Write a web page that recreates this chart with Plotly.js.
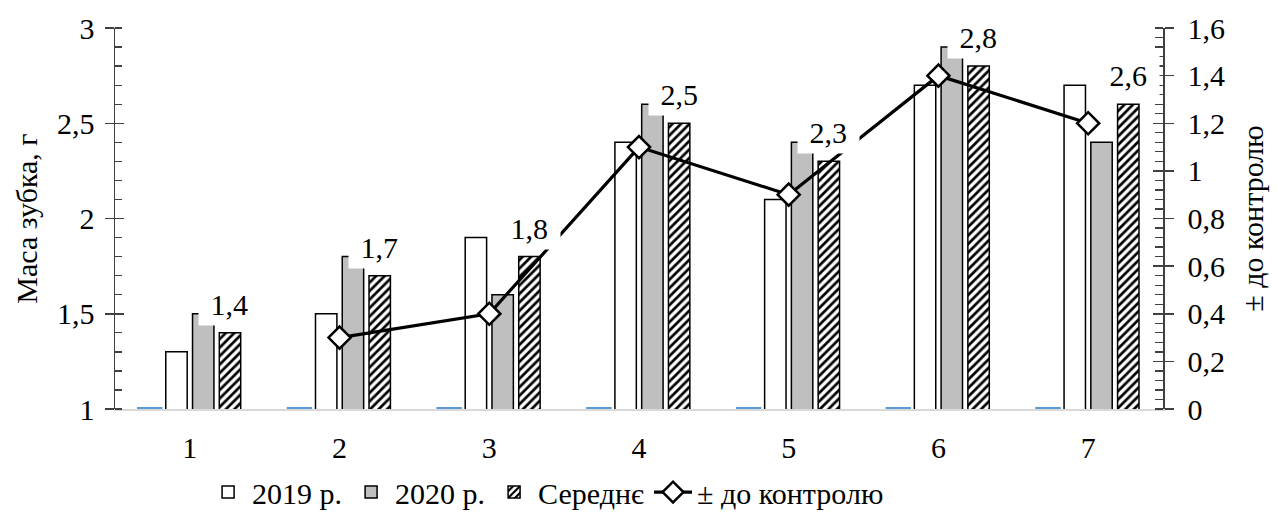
<!DOCTYPE html>
<html>
<head>
<meta charset="utf-8">
<script src="https://cdn.plot.ly/plotly-3.0.1.min.js"></script>
<style>
html,body{margin:0;padding:0;background:#fff;}
#chart{width:1277px;height:518px;}
#chart svg text{font-family:'Liberation Serif','Times New Roman',serif !important;}
</style>
</head>
<body>
<div id="chart"></div>
<script>
// ---- data ----
var categories = ['1', '2', '3', '4', '5', '6', '7'];
var control = [1, 1, 1, 1, 1, 1, 1];           // empty first slot (baseline dash)
var mass2019 = [1.3, 1.5, 1.9, 2.4, 2.1, 2.7, 2.7];
var mass2020 = [1.5, 1.8, 1.6, 2.6, 2.4, 2.9, 2.4];
var massMean = [1.4, 1.7, 1.8, 2.5, 2.3, 2.8, 2.6];
var diffControl = [null, 0.3, 0.4, 1.1, 0.9, 1.4, 1.2];
var meanLabels = ['1,4', '1,7', '1,8', '2,5', '2,3', '2,8', '2,6'];
var seriesNames = ['2019 р.', '2020 р.', 'Середнє', '± до контролю'];

var FONT = 'Liberation Serif';
var AX = '#404040';

var traces = [
  {type: 'bar', x: categories, y: control, yaxis: 'y', showlegend: false, hoverinfo: 'skip',
   marker: {color: 'rgba(0,0,0,0)', line: {color: '#5b9bd5', width: 4}}},
  {type: 'bar', name: seriesNames[0], x: categories, y: mass2019, yaxis: 'y',
   marker: {color: '#ffffff', line: {color: '#000000', width: 1.5}}},
  {type: 'bar', name: seriesNames[1], x: categories, y: mass2020, yaxis: 'y',
   marker: {color: '#bfbfbf', line: {color: '#000000', width: 1.5}}},
  {type: 'bar', name: seriesNames[2], x: categories, y: massMean, yaxis: 'y',
   marker: {color: '#ffffff', line: {color: '#000000', width: 1.5},
            pattern: {shape: '/', fgcolor: '#000000', bgcolor: '#ffffff', size: 6, solidity: 0.45}}},
  {type: 'scatter', mode: 'lines+markers', name: seriesNames[3], x: categories, y: diffControl, yaxis: 'y2',
   line: {color: '#000000', width: 3.2},
   marker: {symbol: 'diamond', size: 17, color: '#ffffff', line: {color: '#000000', width: 2.5}}},
  {type: 'scatter', x: categories, y: [null, null, null, null, null, null, null], yaxis: 'y3', showlegend: false, hoverinfo: 'skip'},
  {type: 'scatter', x: categories, y: [null, null, null, null, null, null, null], yaxis: 'y4', showlegend: false, hoverinfo: 'skip'}
];

var annotations = categories.map(function (c, i) {
  return {x: i, y: massMean[i], xref: 'x', yref: 'y', text: '\u00a0' + meanLabels[i] + '\u00a0',
          showarrow: false, xshift: 40, yshift: 7, yanchor: 'bottom', xanchor: 'center',
          bgcolor: '#ffffff', borderpad: 4, font: {family: FONT, size: 30, color: '#000'}};
});

var layout = {
  width: 1277, height: 518,
  margin: {l: 115, r: 114, t: 28, b: 109, autoexpand: false},
  paper_bgcolor: '#ffffff', plot_bgcolor: '#ffffff',
  separators: ', ',
  font: {family: FONT, size: 30, color: '#000000'},
  barmode: 'group', bargap: 0.285, bargroupgap: 0.2,
  showlegend: true,
  legend: {orientation: 'h', x: 0.085, xanchor: 'left', y: -0.218, yanchor: 'middle', itemwidth: 38,
           font: {family: FONT, size: 30, color: '#000'}, bgcolor: 'rgba(0,0,0,0)', traceorder: 'normal'},
  xaxis: {type: 'category', range: [-0.5, 6.5], showline: true, linecolor: '#d9d9d9', linewidth: 2, ticks: '',
          showgrid: false, zeroline: false, layer: 'below traces', ticklabelstandoff: 11,
          tickfont: {family: FONT, size: 30, color: '#000'}},
  yaxis: {range: [1, 3], dtick: 0.5, tick0: 1, showgrid: false, zeroline: false,
          showline: true, linecolor: AX, linewidth: 1.5,
          ticks: 'outside', ticklen: 9, tickwidth: 1.5, tickcolor: AX, ticklabelstandoff: 4,
          minor: {dtick: 0.1, ticks: 'inside', ticklen: 7, tickwidth: 1.3, tickcolor: AX, showgrid: false},
          title: {text: 'Маса зубка, г', standoff: 10, font: {family: FONT, size: 30, color: '#000'}},
          tickfont: {family: FONT, size: 30, color: '#000'}},
  yaxis2: {range: [0, 1.6], dtick: 0.2, tick0: 0, overlaying: 'y', side: 'right', anchor: 'x',
           showgrid: false, zeroline: false, showline: true, linecolor: AX, linewidth: 1.5,
           ticks: 'outside', ticklen: 9, tickwidth: 1.5, tickcolor: AX, ticklabelstandoff: 8,
           minor: {dtick: 0.04, ticks: 'inside', ticklen: 8, tickwidth: 1.3, tickcolor: AX, showgrid: false},
           title: {text: '± до контролю', standoff: 18, font: {family: FONT, size: 30, color: '#000'}},
           tickfont: {family: FONT, size: 30, color: '#000'}},
  yaxis3: {range: [1, 3], dtick: 0.5, tick0: 1, overlaying: 'y', side: 'left', anchor: 'x',
           showgrid: false, zeroline: false, showline: false, showticklabels: false,
           ticks: 'inside', ticklen: 9, tickwidth: 1.5, tickcolor: AX},
  yaxis4: {range: [0, 1.6], dtick: 0.2, tick0: 0, overlaying: 'y', side: 'right', anchor: 'x',
           showgrid: false, zeroline: false, showline: false, showticklabels: false,
           ticks: 'inside', ticklen: 10, tickwidth: 1.5, tickcolor: AX},
  annotations: annotations
};

Plotly.newPlot('chart', traces, layout, {displayModeBar: false, staticPlot: true});
</script>
</body>
</html>
